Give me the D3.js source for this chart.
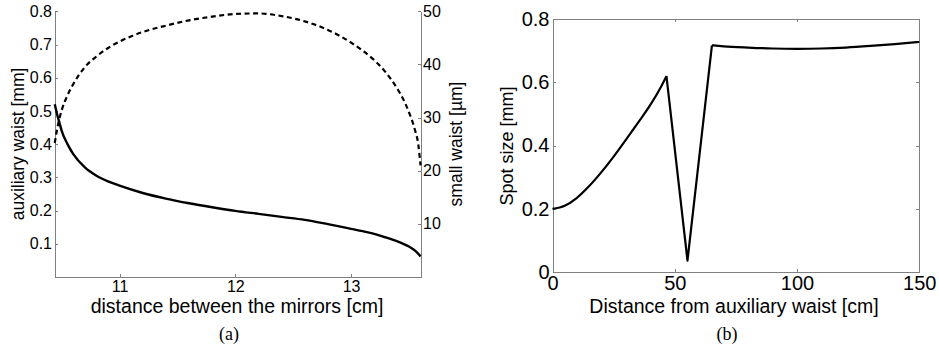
<!DOCTYPE html>
<html>
<head>
<meta charset="utf-8">
<script src="https://cdn.jsdelivr.net/npm/d3@7"></script>
<style>
  html, body { margin: 0; padding: 0; background: #fff; }
  svg { display: block; }
  .ax path, .ax line { stroke: #808080; stroke-width: 1; shape-rendering: crispEdges; }
  .ax text { fill: #000; font-family: "Liberation Sans", Arial, sans-serif; }
</style>
</head>
<body>
<svg id="c" width="939" height="358"></svg>
<script>
// ---------- Data: panel (a) ----------
const mirrorDistance = [10.44, 10.46, 10.48, 10.5, 10.55, 10.6, 10.7, 10.8, 10.9, 11.0, 11.2, 11.4, 11.6, 11.8, 12.0, 12.2, 12.4, 12.6, 12.8, 13.0, 13.1, 13.2, 13.3, 13.4, 13.45, 13.5, 13.55, 13.58, 13.6];
const auxiliaryWaist = [0.52, 0.49, 0.465, 0.44, 0.40, 0.37, 0.33, 0.305, 0.288, 0.275, 0.253, 0.236, 0.222, 0.21, 0.199, 0.19, 0.181, 0.172, 0.159, 0.145, 0.138, 0.13, 0.119, 0.107, 0.1, 0.092, 0.08, 0.07, 0.062];
const smallWaist = [25.2, 27.8, 29.8, 31.4, 34.2, 36.3, 39.5, 41.5, 43.1, 44.3, 46.1, 47.3, 48.3, 49.0, 49.5, 49.6, 49.1, 48.1, 46.5, 44.1, 42.6, 40.8, 38.5, 35.4, 33.5, 31.0, 27.8, 25.0, 21.0];
const aXTicks = [11, 12, 13];
const aYLeftTicks = [0.1, 0.2, 0.3, 0.4, 0.5, 0.6, 0.7, 0.8];
const aYRightTicks = [10, 20, 30, 40, 50];

// ---------- Data: panel (b) ----------
const auxDistance = [0, 5, 10, 15, 20, 25, 30, 35, 40, 44, 46.6, 55.2, 65.2, 70, 80, 90, 100, 110, 120, 130, 140, 150];
const spotSize = [0.2, 0.21, 0.235, 0.272, 0.316, 0.365, 0.418, 0.472, 0.528, 0.58, 0.619, 0.037, 0.716, 0.713, 0.709, 0.706, 0.705, 0.706, 0.709, 0.714, 0.72, 0.727];
const bXTicks = [0, 50, 100, 150];
const bYTicks = [0, 0.2, 0.4, 0.6, 0.8];

const svg = d3.select("#c");
const sans = '"Liberation Sans", Arial, sans-serif';
const serif = '"Liberation Serif", "DejaVu Serif", serif';

// ================= Panel (a) =================
{
  const L = 55, R = 421, T = 11.3, B = 277;
  const x = d3.scaleLinear().domain([10.442, 13.604]).range([L, R]);
  const yL = d3.scaleLinear().domain([0, 0.8]).range([B, T]);
  const yR = d3.scaleLinear().domain([0, 50]).range([B, T]);

  const g = svg.append("g");

  g.append("g").attr("class", "ax").attr("transform", `translate(0,${B})`)
    .call(d3.axisBottom(x).tickValues(aXTicks).tickFormat(d3.format("d")).tickSizeInner(-3).tickSizeOuter(0).tickPadding(4))
    .selectAll("text").style("font-size", "16px");

  g.append("g").attr("class", "ax").attr("transform", `translate(${L},0)`)
    .call(d3.axisLeft(yL).tickValues(aYLeftTicks).tickFormat(d3.format(".1f")).tickSizeInner(-3).tickSizeOuter(0).tickPadding(3))
    .selectAll("text").style("font-size", "16px");

  g.append("g").attr("class", "ax").attr("transform", `translate(${R},0)`)
    .call(d3.axisRight(yR).tickValues(aYRightTicks).tickFormat(d3.format("d")).tickSizeInner(-3).tickSizeOuter(0).tickPadding(2))
    .selectAll("text").style("font-size", "16px");

  const lineA = d3.line().x((d, i) => x(mirrorDistance[i])).y(d => yL(d)).curve(d3.curveMonotoneX);
  const lineS = d3.line().x((d, i) => x(mirrorDistance[i])).y(d => yR(d)).curve(d3.curveMonotoneX);

  g.append("path").datum(smallWaist).attr("d", lineS)
    .attr("fill", "none").attr("stroke", "#000").attr("stroke-width", 2.2).attr("stroke-dasharray", "5,3.5");
  g.append("path").datum(auxiliaryWaist).attr("d", lineA)
    .attr("fill", "none").attr("stroke", "#000").attr("stroke-width", 2.4);

  g.append("text").attr("transform", `translate(24,144) rotate(-90)`)
    .attr("text-anchor", "middle").style("font-family", sans).style("font-size", "17.5px")
    .text("auxiliary waist [mm]");
  g.append("text").attr("transform", `translate(462,144) rotate(-90)`)
    .attr("text-anchor", "middle").style("font-family", sans).style("font-size", "17.5px")
    .text("small waist [µm]");
  g.append("text").attr("x", 237).attr("y", 313)
    .attr("text-anchor", "middle").style("font-family", sans).style("font-size", "19.5px")
    .text("distance between the mirrors [cm]");
  g.append("text").attr("x", 229).attr("y", 340)
    .attr("text-anchor", "middle").style("font-family", serif).style("font-size", "18px")
    .text("(a)");
}

// ================= Panel (b) =================
{
  const L = 552.5, R = 919.3, T = 18.7, B = 272.3;
  const x = d3.scaleLinear().domain([0, 150]).range([L, R]);
  const y = d3.scaleLinear().domain([0, 0.8]).range([B, T]);
  const fmtY = d => d === 0 ? "0" : d3.format(".1f")(d);

  const g = svg.append("g");

  g.append("g").attr("class", "ax").attr("transform", `translate(0,${B})`)
    .call(d3.axisBottom(x).tickValues(bXTicks).tickFormat(d3.format("d")).tickSizeInner(-3).tickSizeOuter(0).tickPadding(4))
    .selectAll("text").style("font-size", "20px");
  g.append("g").attr("class", "ax").attr("transform", `translate(0,${T})`)
    .call(d3.axisTop(x).tickValues(bXTicks).tickFormat("").tickSizeInner(-3).tickSizeOuter(0));
  g.append("g").attr("class", "ax").attr("transform", `translate(${L},0)`)
    .call(d3.axisLeft(y).tickValues(bYTicks).tickFormat(fmtY).tickSizeInner(-3).tickSizeOuter(0).tickPadding(3))
    .selectAll("text").style("font-size", "20px");
  g.append("g").attr("class", "ax").attr("transform", `translate(${R},0)`)
    .call(d3.axisRight(y).tickValues(bYTicks).tickFormat("").tickSizeInner(-3).tickSizeOuter(0));

  const peak = 10;
  const idx = d3.range(auxDistance.length);
  const lineSmooth = d3.line().x(i => x(auxDistance[i])).y(i => y(spotSize[i])).curve(d3.curveMonotoneX);
  const lineStraight = d3.line().x(i => x(auxDistance[i])).y(i => y(spotSize[i]));
  g.append("path").datum(idx.slice(0, peak + 1)).attr("d", lineSmooth)
    .attr("fill", "none").attr("stroke", "#000").attr("stroke-width", 2.2).attr("stroke-linejoin", "round");
  g.append("path").datum(idx.slice(peak, 13)).attr("d", lineStraight)
    .attr("fill", "none").attr("stroke", "#000").attr("stroke-width", 2.2).attr("stroke-linejoin", "round");
  g.append("path").datum(idx.slice(12)).attr("d", lineSmooth)
    .attr("fill", "none").attr("stroke", "#000").attr("stroke-width", 2.2).attr("stroke-linejoin", "round");

  g.append("text").attr("transform", `translate(513,146) rotate(-90)`)
    .attr("text-anchor", "middle").style("font-family", sans).style("font-size", "18px")
    .text("Spot size [mm]");
  g.append("text").attr("x", 734).attr("y", 313)
    .attr("text-anchor", "middle").style("font-family", sans).style("font-size", "19.5px")
    .text("Distance from auxiliary waist [cm]");
  g.append("text").attr("x", 727).attr("y", 340)
    .attr("text-anchor", "middle").style("font-family", serif).style("font-size", "18px")
    .text("(b)");
}
</script>
</body>
</html>
